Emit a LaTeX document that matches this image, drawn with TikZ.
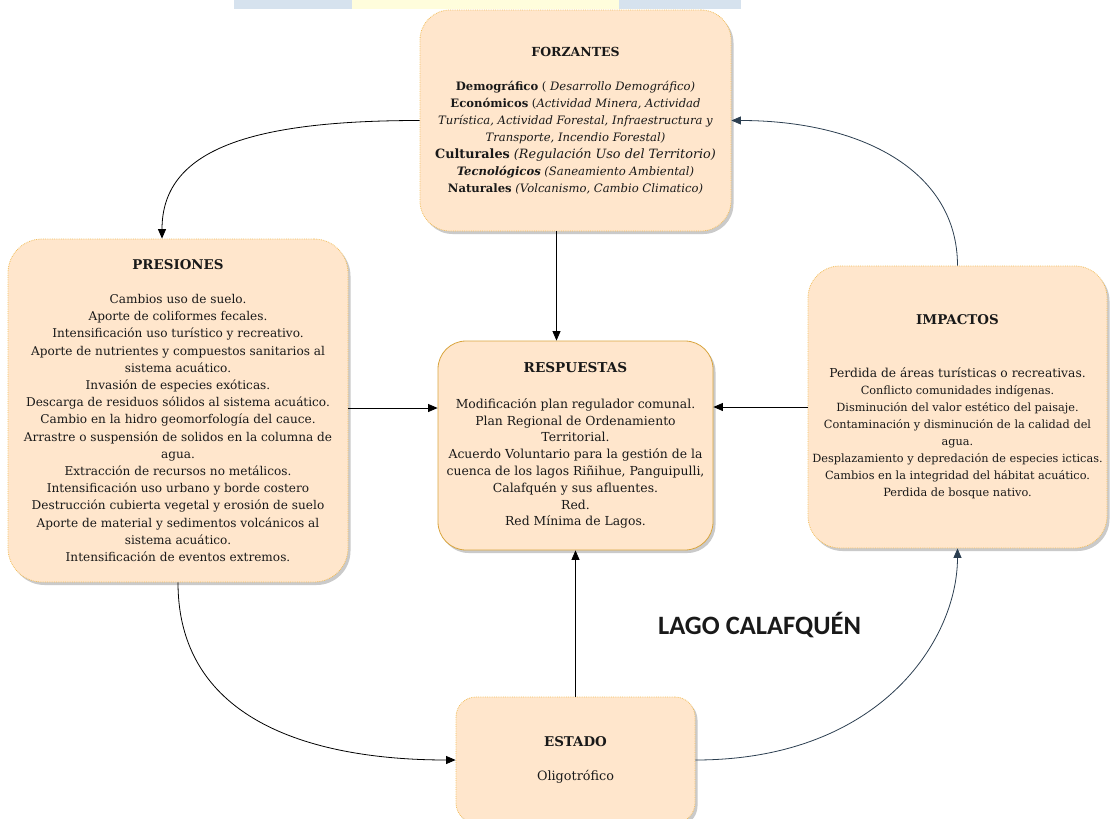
\documentclass[tikz,border=0pt]{standalone}
\usepackage{fontspec}
\setmainfont{DejaVu Serif}
\newfontfamily\lagofont{Carlito}
\usetikzlibrary{shadows,arrows.meta,calc}
\definecolor{boxfill}{HTML}{FFE6CC}
\definecolor{boxline}{HTML}{F2BE5C}
\definecolor{respline}{HTML}{D9A53F}
\definecolor{slate}{HTML}{2B3E50}
\definecolor{wmblue}{HTML}{D6E2EE}
\definecolor{wmyellow}{HTML}{FFFDDC}
\begin{document}
\begin{tikzpicture}[x=1pt,y=-1pt,
  box/.style={draw=boxline, densely dotted, line width=0.8pt, fill=boxfill,
    align=center, inner sep=0pt, text=black!90,
    drop shadow={shadow xshift=2.5pt, shadow yshift=-3pt, opacity=0.35, fill=black!60}},
  respbox/.style={box, draw=respline, solid},
  conn/.style={line width=0.8pt, draw=black, -{Triangle[length=9.5pt,width=8pt]}},
  sconn/.style={conn, draw=slate}
]
\useasboundingbox (0,0) rectangle (1112,819);
\clip (0,0) rectangle (1112,819);
% faint watermark strip
\fill[wmblue] (234,0) rectangle (352,9);
\fill[wmyellow] (352,0) rectangle (619,9);
\fill[wmblue] (619,0) rectangle (741,9);

% FORZANTES
\node[box, minimum width=311pt, minimum height=221pt, rounded corners=30pt,
  font=\fontsize{11.6}{17}\selectfont] (forz) at (575.5,120.5)
{{\fontsize{12.5}{17}\selectfont\textbf{FORZANTES}}\\[17pt]
\textbf{Demográfico} ( \textit{Desarrollo Demográfico)}\\
\textbf{Económicos} (\textit{Actividad Minera, Actividad}\\
\textit{Turística, Actividad Forestal, Infraestructura y}\\
\textit{Transporte, Incendio Forestal)}\\
{\fontsize{12.8}{17}\selectfont\textbf{Culturales} \textit{(Regulación Uso del Territorio)}}\\
\textbf{\textit{Tecnológicos}} \textit{(Saneamiento Ambiental)}\\
\textbf{Naturales} \textit{(Volcanismo, Cambio Climatico)}};

% PRESIONES
\node[box, minimum width=340pt, minimum height=343pt, rounded corners=34pt,
  font=\fontsize{12.1}{17.2}\selectfont] (pres) at (178,410.5)
{{\fontsize{13.4}{17.2}\selectfont\textbf{PRESIONES}}\\[17.2pt]
Cambios uso de suelo.\\
Aporte de coliformes fecales.\\
Intensificación uso turístico y recreativo.\\
Aporte de nutrientes y compuestos sanitarios al\\
sistema acuático.\\
Invasión de especies exóticas.\\
Descarga de residuos sólidos al sistema acuático.\\
Cambio en la hidro geomorfología del cauce.\\
Arrastre o suspensión de solidos en la columna de\\
agua.\\
Extracción de recursos no metálicos.\\
Intensificación uso urbano y borde costero\\
Destrucción cubierta vegetal y erosión de suelo\\
Aporte de material y sedimentos volcánicos al\\
sistema acuático.\\
Intensificación de eventos extremos.};

% RESPUESTAS
\node[respbox, minimum width=275pt, minimum height=209pt, rounded corners=28pt,
  font=\fontsize{12.4}{16.8}\selectfont] (resp) at (575.5,445.5)
{{\fontsize{13.6}{16.8}\selectfont\textbf{RESPUESTAS}}\\[19pt]
Modificación plan regulador comunal.\\
Plan Regional de Ordenamiento\\
Territorial.\\
Acuerdo Voluntario para la gestión de la\\
cuenca de los lagos Riñihue, Panguipulli,\\
Calafquén y sus afluentes.\\
Red.\\
Red Mínima de Lagos.};

% IMPACTOS
\node[box, minimum width=299pt, minimum height=282pt, rounded corners=32pt,
  font=\fontsize{11.3}{17}\selectfont] (imp) at (957.5,407)
{{\fontsize{13.4}{17}\selectfont\textbf{IMPACTOS}}\\[36pt]
{\fontsize{12.3}{17}\selectfont Perdida de áreas turísticas o recreativas.}\\
Conflicto comunidades indígenas.\\
Disminución del valor estético del paisaje.\\
Contaminación y disminución de la calidad del\\
agua.\\
Desplazamiento y depredación de especies icticas.\\
Cambios en la integridad del hábitat acuático.\\
Perdida de bosque nativo.};

% ESTADO
\node[box, minimum width=239pt, minimum height=126pt, rounded corners=20pt,
  font=\fontsize{12.8}{17}\selectfont] (estado) at (575.5,760)
{{\fontsize{13.4}{17}\selectfont\textbf{ESTADO}}\\[17pt]
Oligotrófico};

% title
\node[font=\lagofont\bfseries\fontsize{26.5}{30}\selectfont, text=black!90] (lago) at (759.5,625) {LAGO CALAFQUÉN};

% connectors
\draw[conn] (forz.west) .. controls (250,120.5) and ($(pres.north)+(-16,-89)$) .. ([xshift=-16pt]pres.north);
\draw[conn] ([xshift=-19pt]forz.south) -- ([xshift=-19pt]forz.south |- resp.north);
\draw[sconn] (imp.north) .. controls (957.5,170) and (860,120.5) .. (forz.east);
\draw[conn] (pres.east |- 0,408) -- (resp.west |- 0,408);
\draw[conn] (imp.west) -- (imp.west -| resp.east);
\draw[conn] (pres.south) .. controls (178,730) and (330,760) .. (estado.west);
\draw[conn] (estado.north) -- (resp.south);
\draw[sconn] (estado.east) .. controls (880,760) and (957.5,640) .. (imp.south);
\end{tikzpicture}
\end{document}
